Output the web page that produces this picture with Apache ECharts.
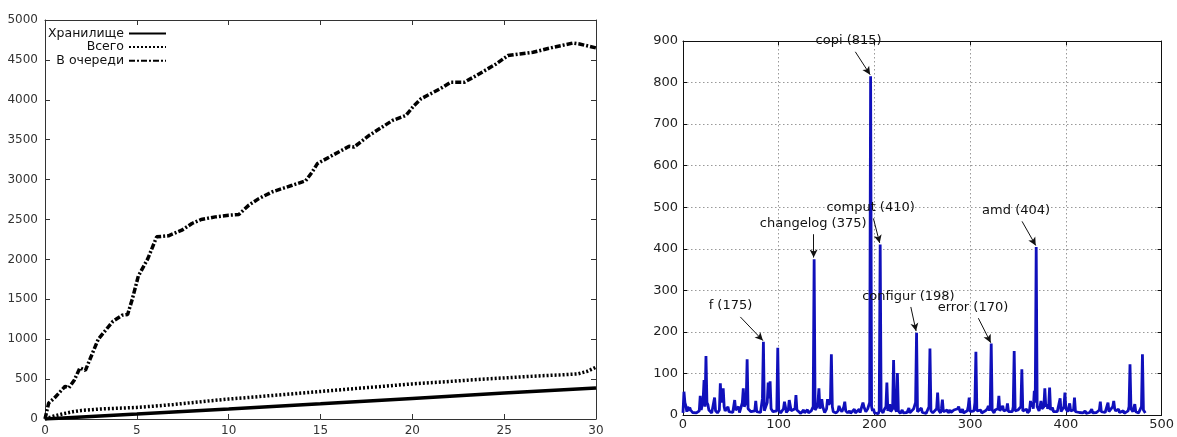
<!DOCTYPE html>
<html>
<head>
<meta charset="utf-8">
<script src="https://cdn.jsdelivr.net/npm/echarts@6/dist/echarts.min.js"></script>
<style>
  html, body { margin: 0; padding: 0; background: #fff; }
  #chart { width: 1177px; height: 437px; }
</style>
</head>
<body>
<div id="chart"></div>
<script>
// left panel: queue stats over time
const seriesNames = ['Хранилище', 'Всего', 'В очереди'];

const storagePoints = [[0, 0], [5, 62], [10, 125], [15, 190], [20, 258], [25, 325], [30, 390]];

const totalPoints = [
    [0, 0], [0.5, 38], [1, 66], [1.5, 90], [2, 108], [3, 125], [4, 135], [5, 145], [6, 162],
    [7, 182], [8, 205], [9, 228], [10, 250], [11, 268], [12, 288], [13, 306], [14, 326],
    [15, 345], [16, 364], [17, 384], [18, 402], [19, 421], [20, 440], [21, 455], [22, 470],
    [23, 486], [24, 502], [25, 515], [26, 528], [27, 542], [28, 552], [29, 565], [29.5, 595], [30, 650]
];

const queuePoints = [
    [0, 0], [0.2, 200], [0.5, 260], [1.1, 410], [1.3, 390], [1.6, 490], [1.9, 640], [2.2, 610],
    [2.9, 1000], [3.7, 1225], [4.2, 1300], [4.5, 1310], [4.75, 1500], [5.08, 1790], [5.6, 2010],
    [6.08, 2283], [6.72, 2296], [7.45, 2366], [8.0, 2450], [8.5, 2500], [9.27, 2533], [10.0, 2554],
    [10.55, 2562], [11.1, 2680], [11.64, 2762], [12.37, 2846], [13.46, 2929], [14.19, 2985],
    [14.55, 3096], [14.83, 3200], [15.65, 3304], [16.56, 3417], [16.83, 3408], [17.65, 3554],
    [18.92, 3741], [19.65, 3804], [20.1, 3929], [20.47, 4012], [21.5, 4137], [22.1, 4221],
    [22.84, 4221], [23.48, 4304], [24.57, 4450], [25.2, 4554], [25.85, 4575], [26.57, 4596],
    [27.67, 4658], [28.76, 4712], [29.1, 4700], [30, 4650]
];

// right panel: term frequencies
const termPoints = [
    [0, 5], [1, 56], [2, 30], [3, 22], [4, 8], [5, 20], [6, 10], [7, 18], [8, 12], [9, 15], [10, 6],
    [12, 4], [14, 5], [16, 3], [17, 10], [18, 46], [19, 12], [20, 8], [21, 35], [22, 84], [23, 20],
    [24, 142], [25, 30], [26, 25], [27, 12], [28, 8], [30, 5], [32, 8], [33, 42], [34, 10], [36, 5],
    [38, 12], [39, 76], [40, 30], [42, 64], [43, 20], [44, 10], [45, 6], [47, 20], [48, 8], [50, 4],
    [52, 6], [54, 36], [55, 12], [56, 8], [58, 20], [59, 6], [61, 10], [62, 30], [63, 64], [64, 20],
    [66, 30], [67, 134], [68, 15], [70, 18], [71, 8], [73, 5], [75, 10], [76, 34], [77, 8], [79, 4],
    [81, 6], [82, 10], [83, 40], [84, 176], [85, 10], [87, 12], [88, 30], [89, 78], [90, 40], [91, 81],
    [92, 15], [94, 8], [96, 4], [98, 10], [99, 162], [100, 12], [102, 5], [104, 8], [105, 15], [106, 32],
    [107, 20], [108, 6], [110, 12], [111, 36], [112, 38], [113, 10], [115, 6], [117, 15], [118, 48],
    [119, 12], [121, 10], [123, 4], [124, 6], [126, 12], [127, 5], [129, 8], [130, 13], [131, 5],
    [133, 6], [134, 10], [136, 20], [137, 375], [138, 12], [140, 20], [141, 30], [142, 64], [143, 15],
    [145, 38], [146, 20], [148, 6], [150, 15], [151, 38], [152, 25], [154, 30], [155, 146], [156, 20],
    [157, 8], [159, 12], [160, 5], [162, 10], [163, 22], [164, 15], [166, 8], [168, 20], [169, 32],
    [170, 10], [172, 5], [174, 10], [175, 4], [177, 8], [179, 14], [180, 5], [182, 6], [184, 14],
    [185, 6], [187, 10], [188, 30], [189, 20], [191, 8], [192, 5], [193, 15], [195, 30], [196, 815],
    [197, 20], [198, 10], [199, 15], [200, 5], [202, 8], [204, 3], [205, 10], [206, 410], [207, 12],
    [209, 5], [210, 12], [212, 20], [213, 78], [214, 10], [216, 26], [217, 8], [219, 15], [220, 132],
    [221, 20], [223, 8], [224, 101], [225, 10], [227, 4], [229, 12], [230, 5], [232, 8], [234, 6],
    [236, 17], [237, 5], [239, 10], [241, 15], [242, 12], [243, 30], [244, 198], [245, 8], [247, 12],
    [249, 17], [250, 6], [252, 10], [254, 4], [256, 8], [257, 20], [258, 160], [259, 10], [261, 5],
    [263, 8], [265, 15], [266, 54], [267, 12], [269, 5], [270, 15], [271, 37], [272, 8], [274, 6],
    [276, 12], [277, 5], [279, 12], [280, 6], [282, 10], [283, 12], [285, 8], [287, 15], [288, 20],
    [289, 12], [290, 6], [292, 14], [293, 5], [295, 3], [297, 10], [298, 20], [299, 42], [300, 8],
    [302, 5], [304, 10], [305, 30], [306, 152], [307, 10], [309, 6], [311, 12], [312, 5], [314, 8],
    [316, 10], [318, 15], [319, 22], [320, 10], [321, 25], [322, 172], [323, 12], [325, 5], [326, 12],
    [328, 8], [329, 15], [330, 46], [331, 10], [333, 8], [334, 22], [335, 10], [337, 6], [338, 12],
    [339, 28], [340, 8], [342, 5], [344, 8], [345, 20], [346, 154], [347, 10], [349, 6], [350, 12],
    [351, 15], [352, 8], [353, 20], [354, 110], [355, 10], [357, 6], [359, 14], [360, 5], [362, 10],
    [363, 34], [364, 20], [365, 30], [366, 15], [367, 58], [368, 30], [369, 404], [370, 20], [372, 10],
    [373, 20], [374, 34], [375, 15], [377, 20], [378, 64], [379, 20], [380, 26], [381, 15], [382, 20],
    [383, 66], [384, 12], [386, 18], [387, 8], [389, 5], [391, 8], [393, 12], [394, 40], [395, 8],
    [397, 10], [398, 20], [399, 54], [400, 15], [402, 8], [403, 12], [404, 28], [405, 10], [407, 8],
    [408, 12], [409, 42], [410, 8], [412, 4], [414, 6], [415, 10], [416, 4], [418, 5], [420, 10],
    [421, 4], [423, 3], [425, 6], [427, 14], [428, 5], [430, 4], [432, 6], [434, 8], [435, 12],
    [436, 32], [437, 8], [439, 5], [441, 6], [443, 10], [444, 30], [445, 8], [447, 12], [449, 20],
    [450, 34], [451, 15], [452, 10], [454, 6], [455, 14], [456, 6], [458, 5], [460, 10], [461, 4],
    [463, 6], [465, 10], [466, 20], [467, 122], [468, 15], [470, 8], [471, 12], [472, 26], [473, 8],
    [475, 10], [476, 5], [478, 8], [479, 20], [480, 146], [481, 12], [482, 15], [483, 5]
];

// annotated peaks: term, peak x, peak value, label anchor (x, y) in data units
const annotTerms = ['copi', 'changelog', 'comput', 'amd', 'configur', 'error', 'f'];
const annotPeakX = [196, 137, 206, 369, 244, 322, 84];
const annotPeakY = [815, 375, 410, 404, 198, 170, 175];
const annotTextX = [173, 136, 196, 348, 235.5, 303, 49.6];
const annotTextY = [900, 461, 499, 492, 286, 259, 262];

const labelPoints = annotTerms.map((t, i) => ({
    name: t,
    coord: [annotTextX[i], annotTextY[i]],
    label: { formatter: t + ' (' + annotPeakY[i] + ')' }
}));

const arrowLines = annotTerms.map((t, i) => {
    let k = 26 / (annotTextY[i] - annotPeakY[i]);
    let sx = annotTextX[i] + k * (annotPeakX[i] - annotTextX[i]);
    return [
        { coord: [sx, annotTextY[i] - 26] },
        { coord: [annotPeakX[i] - 0.5, annotPeakY[i] + 4] }
    ];
});

const leftFont = 'DejaVu Sans';
const rightFont = 'DejaVu Sans';
const plainNum = v => String(v);

function frameAxis(grid, pos, min, max, interval, labels, opts) {
    return Object.assign({
        type: 'value',
        gridIndex: grid,
        position: pos,
        min: min,
        max: max,
        interval: interval,
        axisLine: { show: true, onZero: false, lineStyle: { color: '#333', width: 1 } },
        axisTick: { show: true, inside: true, length: 5, lineStyle: { color: '#333' } },
        axisLabel: { show: labels },
        splitLine: { show: false }
    }, opts || {});
}

const chart = echarts.init(document.getElementById('chart'), null, { renderer: 'canvas' });
chart.setOption({
    animation: false,
    backgroundColor: '#fff',
    grid: [
        { left: 45, right: 581, top: 20, bottom: 16 },
        { left: 683, right: 10, top: 41, bottom: 22 }
    ],
    legend: {
        data: seriesNames,
        orient: 'vertical',
        align: 'right',
        right: 1010,
        top: 27,
        padding: 0,
        itemWidth: 37,
        itemHeight: 8,
        itemGap: 0.6,
        itemStyle: { opacity: 0 },
        textStyle: { fontFamily: leftFont, fontSize: 12.5, lineHeight: 12, color: '#111' }
    },
    xAxis: [
        frameAxis(0, 'bottom', 0, 30, 5, true, {
            axisLabel: { show: true, fontFamily: leftFont, fontSize: 12, color: '#333', margin: 6, formatter: plainNum }
        }),
        frameAxis(0, 'top', 0, 30, 5, false),
        frameAxis(1, 'bottom', 0, 500, 100, true, {
            axisLine: { show: true, onZero: false, lineStyle: { color: '#111', width: 1 } },
            axisTick: { show: true, inside: true, length: 4, lineStyle: { color: '#111' } },
            axisLabel: { show: true, fontFamily: rightFont, fontSize: 13, color: '#222', margin: 3, formatter: plainNum },
            splitLine: { show: true, lineStyle: { color: '#999', width: 1, type: [1.5, 2.5] } }
        }),
        frameAxis(1, 'top', 0, 500, 100, false, {
            axisLine: { show: true, onZero: false, lineStyle: { color: '#111', width: 1 } },
            axisTick: { show: true, inside: true, length: 4, lineStyle: { color: '#111' } }
        })
    ],
    yAxis: [
        frameAxis(0, 'left', 0, 5000, 500, true, {
            axisLabel: { show: true, fontFamily: leftFont, fontSize: 12, color: '#333', margin: 7, formatter: plainNum }
        }),
        frameAxis(0, 'right', 0, 5000, 500, false),
        frameAxis(1, 'left', 0, 900, 100, true, {
            axisLine: { show: true, onZero: false, lineStyle: { color: '#111', width: 1 } },
            axisTick: { show: true, inside: true, length: 4, lineStyle: { color: '#111' } },
            axisLabel: { show: true, fontFamily: rightFont, fontSize: 13, color: '#222', margin: 5, formatter: plainNum },
            splitLine: { show: true, lineStyle: { color: '#999', width: 1, type: [1.5, 2.5] } }
        }),
        frameAxis(1, 'right', 0, 900, 100, false, {
            axisLine: { show: true, onZero: false, lineStyle: { color: '#111', width: 1 } },
            axisTick: { show: true, inside: true, length: 4, lineStyle: { color: '#111' } }
        })
    ],
    series: [
        {
            name: seriesNames[0],
            type: 'line',
            xAxisIndex: 0, yAxisIndex: 0,
            data: storagePoints,
            symbol: 'none',
            color: '#000',
            lineStyle: { color: '#000', width: 3.5, type: 'solid' }
        },
        {
            name: seriesNames[1],
            type: 'line',
            xAxisIndex: 0, yAxisIndex: 0,
            data: totalPoints,
            symbol: 'none',
            color: '#000',
            lineStyle: { color: '#000', width: 3.5, type: [2, 2] }
        },
        {
            name: seriesNames[2],
            type: 'line',
            xAxisIndex: 0, yAxisIndex: 0,
            data: queuePoints,
            symbol: 'none',
            color: '#000',
            lineStyle: { color: '#000', width: 3.5, type: [6, 2, 2, 2] }
        },
        {
            name: 'terms',
            type: 'line',
            xAxisIndex: 2, yAxisIndex: 2,
            data: termPoints,
            symbol: 'none',
            color: '#1010bb',
            lineStyle: { color: '#1010bb', width: 2.8 },
            markPoint: {
                silent: true,
                symbol: 'circle',
                symbolSize: 0,
                label: {
                    show: true,
                    position: 'inside',
                    fontFamily: rightFont,
                    fontSize: 13,
                    color: '#111'
                },
                data: labelPoints
            },
            markLine: {
                silent: true,
                symbol: ['none', 'arrow'],
                symbolSize: [6, 8],
                label: { show: false },
                lineStyle: { color: '#111', width: 1, type: 'solid' },
                emphasis: { disabled: true },
                data: arrowLines
            }
        }
    ]
});
</script>
</body>
</html>
